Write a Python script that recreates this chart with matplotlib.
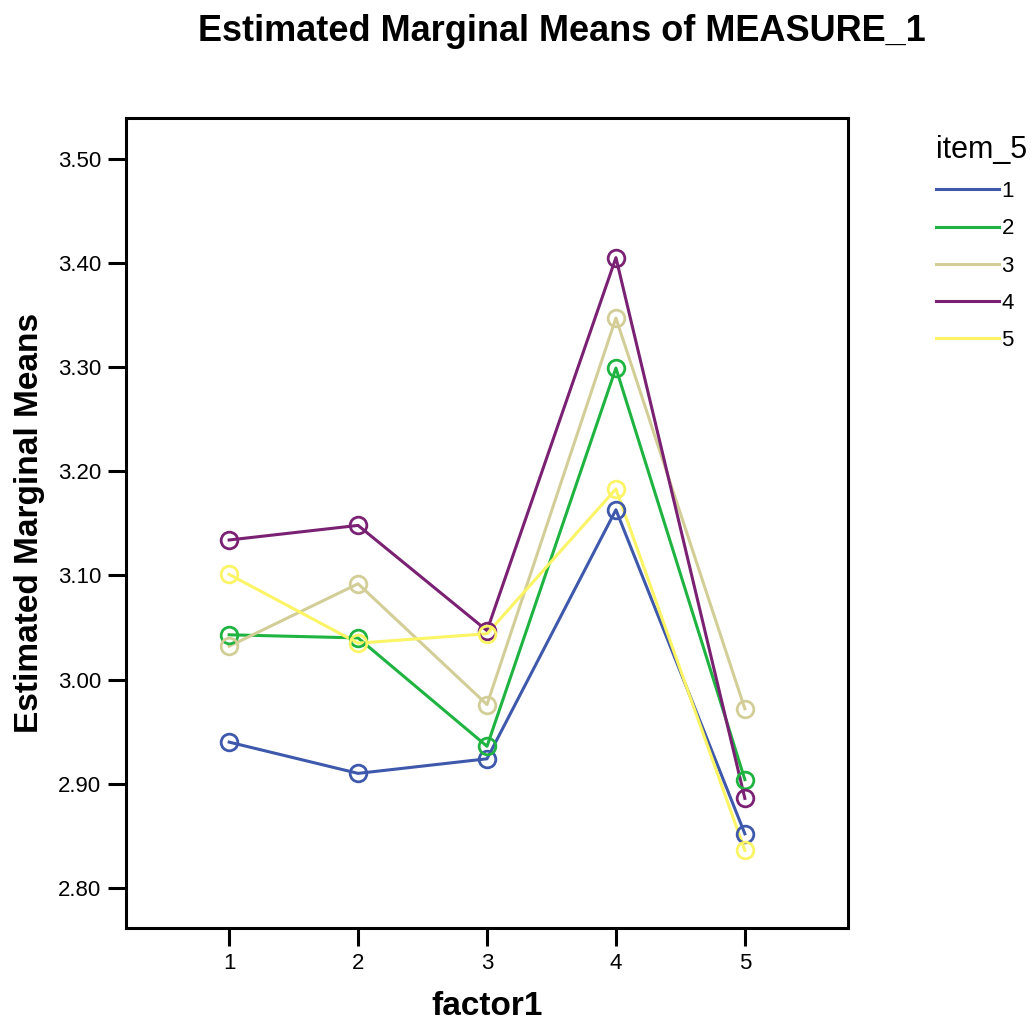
import numpy as np
import matplotlib
matplotlib.use("Agg")
import matplotlib.pyplot as plt

plt.rcParams['font.family'] = ['Liberation Sans', 'DejaVu Sans']

factor1 = [1, 2, 3, 4, 5]
item_5 = ['1', '2', '3', '4', '5']
colors = ['#3e58ac', '#1fb441', '#d3ce97', '#7a2173', '#fbf464']

# estimated marginal means per item_5 level
means_1 = [2.940, 2.910, 2.924, 3.163, 2.852]
means_2 = [3.043, 3.040, 2.936, 3.299, 2.904]
means_3 = [3.032, 3.092, 2.976, 3.347, 2.972]
means_4 = [3.134, 3.148, 3.047, 3.405, 2.886]
means_5 = [3.101, 3.035, 3.044, 3.183, 2.836]
series = [means_1, means_2, means_3, means_4, means_5]

yticks = [2.80, 2.90, 3.00, 3.10, 3.20, 3.30, 3.40, 3.50]

fig = plt.figure(figsize=(10.33, 10.25), dpi=100)
ax = fig.add_axes([126/1033, 97/1025, 722/1033, 810/1025])

handles = []
for vals, c, lab in zip(series, colors, item_5):
    ax.plot(factor1, vals, '-', color=c, lw=2.2, zorder=2)
    ax.plot(factor1, vals, 'o', mfc='none', mec=c, mew=2, ms=12, zorder=3)
    h, = ax.plot([], [], '-', color=c, lw=2.2, label=lab)
    handles.append(h)

ax.set_xlim(0.2, 5.8)
ax.set_ylim(2.7616, 3.539)
ax.set_xticks(factor1)
ax.set_yticks(yticks)
ax.set_yticklabels(['%.2f' % t for t in yticks])
ax.tick_params(direction='out', length=13, width=2.2, labelsize=16, pad=5)
for s in ax.spines.values():
    s.set_linewidth(2.2)

ax.set_xlabel('factor1', fontsize=24, fontweight='bold', labelpad=12)
ax.set_ylabel('Estimated Marginal Means', fontsize=24, fontweight='bold', labelpad=9)
fig.text(0.544, 0.986, 'Estimated Marginal Means of MEASURE_1', ha='center', va='top',
         fontsize=26, fontweight='bold')

leg = fig.legend(handles=handles, title='item_5', loc='upper left',
                 bbox_to_anchor=(927/1033, 1 - 126/1025), frameon=False,
                 fontsize=16, title_fontsize=22, handlelength=2.85, handletextpad=0.1,
                 labelspacing=0.73, borderaxespad=0)
leg._legend_box.align = 'left'

fig.savefig('out.png', dpi=100)
